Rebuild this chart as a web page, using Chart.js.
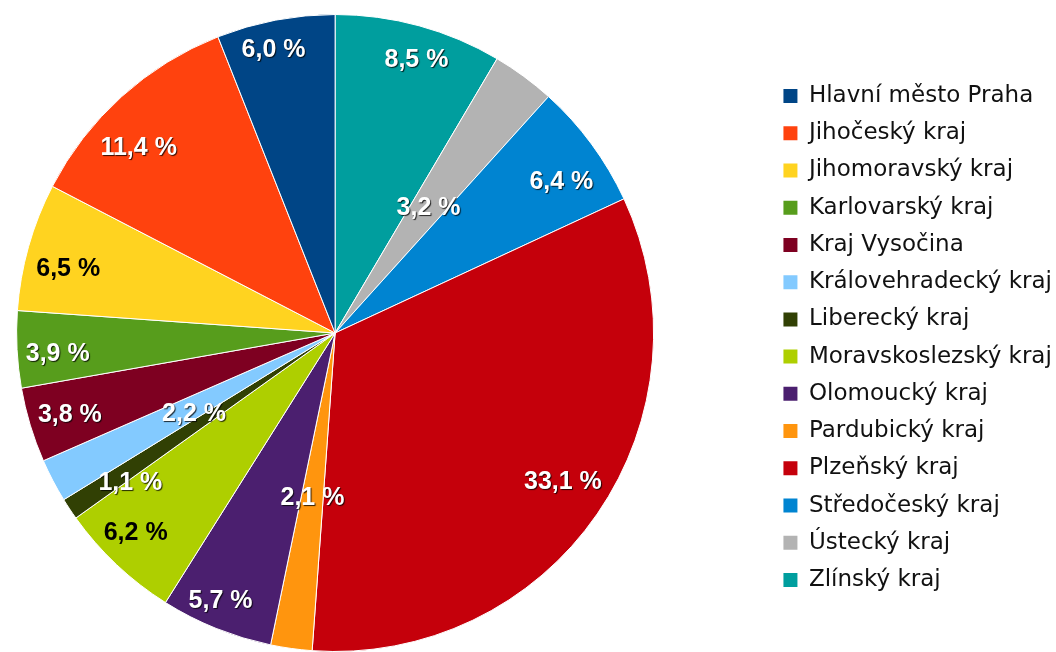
<!DOCTYPE html>
<html>
<head>
<meta charset="utf-8">
<script src="https://cdn.jsdelivr.net/npm/chart.js@4.4.0/dist/chart.umd.min.js"></script>
<style>
    html, body { margin: 0; padding: 0; background: #ffffff; }
</style>
</head>
<body>
<canvas id="chart" width="1056" height="652"></canvas>
<script>
// legend order (the pie runs counter-clockwise from 12 o'clock in this order)
var regions = [
    "Hlavní město Praha", "Jihočeský kraj", "Jihomoravský kraj", "Karlovarský kraj",
    "Kraj Vysočina", "Královehradecký kraj", "Liberecký kraj", "Moravskoslezský kraj",
    "Olomoucký kraj", "Pardubický kraj", "Plzeňský kraj", "Středočeský kraj",
    "Ústecký kraj", "Zlínský kraj"
];
var shares = [6.0, 11.4, 6.5, 3.9, 3.8, 2.2, 1.1, 6.2, 5.7, 2.1, 33.1, 6.4, 3.2, 8.5];

var colours = [
    "#004586", "#ff420e", "#ffd320", "#579d1c", "#7e0021", "#83caff", "#314004",
    "#aecf00", "#4b1f6f", "#ff950e", "#c5000b", "#0084d1", "#b3b3b3", "#009e9e"
];
// where each percent label sits: share of radius, nudge off the mid angle (deg), dark text or not
var labelRadius = [0.915, 0.852, 0.863, 0.873, 0.87, 0.507, 0.793, 0.882, 0.908, 0.517, 0.851, 0.858, 0.495, 0.90];
var labelNudge = [-1.4, -4.3, -1.9, -1, 0, -1.5, -2.3, 1.9, 1.4, 0, -1.8, 2.3, 0, 1.2];
var darkLabel = [false, false, true, false, false, false, false, true, false, false, false, false, false, false];

// chart.js goes clockwise, so feed it reversed and flip the legend back
function rev(a) { return a.slice().reverse(); }

// pie sits further left than chart.js would centre it, legend a bit lower
var shiftLayout = {
    id: "shiftLayout",
    afterLayout: function (chart, args, opts) {
        var area = chart.chartArea;
        area.left -= opts.pieLeft;
        area.width = area.right - area.left;
        chart.legend.top += opts.legendDown;
        chart.legend.bottom += opts.legendDown;
    }
};

var sliceLabels = {
    id: "sliceLabels",
    afterDatasetsDraw: function (chart, args, opts) {
        var ctx = chart.ctx;
        var meta = chart.getDatasetMeta(0);
        var data = chart.data.datasets[0].data;
        ctx.save();
        ctx.font = "bold 25px 'Liberation Sans', Arial, sans-serif";
        ctx.textAlign = "center";
        ctx.textBaseline = "alphabetic";
        meta.data.forEach(function (arc, i) {
            var p = arc.getProps(["x", "y", "startAngle", "endAngle", "outerRadius"], true);
            var mid = (p.startAngle + p.endAngle) / 2 + opts.nudge[i] * Math.PI / 180;
            var r = p.outerRadius * opts.radius[i];
            var x = p.x + Math.cos(mid) * r;
            var y = p.y + Math.sin(mid) * r;
            var text = data[i].toFixed(1).replace(".", ",") + " %";
            if (opts.dark[i]) {
                ctx.shadowColor = "transparent";
                ctx.fillStyle = "#000000";
            } else {
                ctx.shadowColor = "rgba(0, 0, 0, 0.8)";
                ctx.shadowOffsetX = 1;
                ctx.shadowOffsetY = 1;
                ctx.shadowBlur = 1;
                ctx.fillStyle = "#ffffff";
            }
            // digits are ~18px tall, so drop the baseline half of that
            ctx.fillText(text, x, y + 9);
        });
        ctx.restore();
    }
};

var ctx = document.getElementById("chart").getContext("2d");
new Chart(ctx, {
    type: "pie",
    data: {
        labels: rev(regions),
        datasets: [{
            data: rev(shares),
            backgroundColor: rev(colours),
            borderColor: "#ffffff",
            borderWidth: 1
        }]
    },
    options: {
        responsive: false,
        animation: false,
        layout: {
            padding: { left: 0, right: -6, top: 14, bottom: 0 }
        },
        plugins: {
            tooltip: { enabled: false },
            legend: {
                position: "right",
                reverse: true,
                labels: {
                    boxWidth: 14,
                    boxHeight: 14,
                    padding: 14.23,
                    color: "#111111",
                    font: { family: "'DejaVu Sans'", size: 23 },
                    generateLabels: function (chart) {
                        var items = Chart.overrides.pie.plugins.legend.labels.generateLabels(chart);
                        items.forEach(function (it) {
                            it.strokeStyle = it.fillStyle;
                            it.lineWidth = 0;
                        });
                        return items;
                    }
                }
            },
            shiftLayout: { pieLeft: 99, legendDown: 5 },
            sliceLabels: {
                radius: rev(labelRadius),
                nudge: rev(labelNudge),
                dark: rev(darkLabel)
            }
        }
    },
    plugins: [shiftLayout, sliceLabels]
});
</script>
</body>
</html>
